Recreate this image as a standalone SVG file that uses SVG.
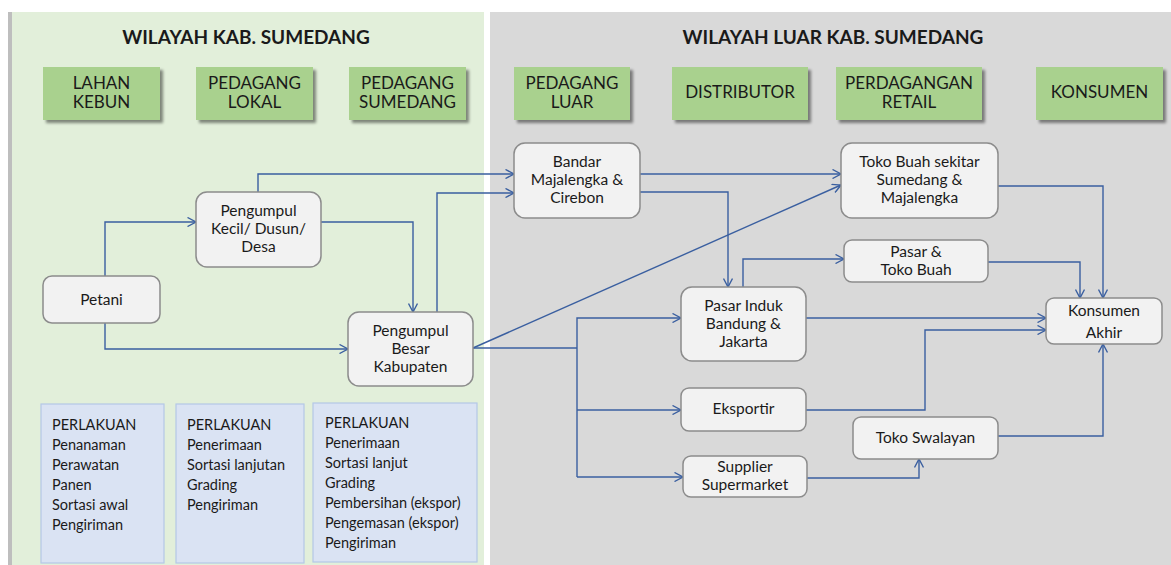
<svg xmlns="http://www.w3.org/2000/svg" width="1171" height="565" viewBox="0 0 1171 565">
  <defs>
    <filter id="shadow" x="-10%" y="-10%" width="130%" height="140%">
      <feGaussianBlur in="SourceAlpha" stdDeviation="1.5"/>
      <feOffset dx="3" dy="3" result="o"/>
      <feComponentTransfer><feFuncA type="linear" slope="0.45"/></feComponentTransfer>
      <feMerge><feMergeNode/><feMergeNode in="SourceGraphic"/></feMerge>
    </filter>
    <marker id="arrow" viewBox="0 0 10 10" refX="9.5" refY="5" markerWidth="10" markerHeight="10" markerUnits="userSpaceOnUse" orient="auto">
      <path d="M1,0.5 L9.5,5 L1,9.5" fill="none" stroke="#3A5FA0" stroke-width="1.4"/>
    </marker>
  </defs>
  <style>
    text { font-family: Lato, "Liberation Sans", sans-serif; fill: #1a1a1a; }
    .title { font-size: 19px; font-weight: bold; text-anchor: middle; }
    .head rect { fill: #A9D18E; filter: url(#shadow); }
    .head text { font-size: 17px; text-anchor: middle; }
    .node rect { fill: #F2F2F2; stroke: #8C8C8C; stroke-width: 1.5; }
    .node text { font-size: 15.5px; text-anchor: middle; }
    .info rect { fill: #DAE3F3; stroke: #B4C7E7; stroke-width: 1.2; }
    .info text { font-size: 14.5px; }
    .conn path { fill: none; stroke: #3A5FA0; stroke-width: 1.4; }
  </style>

  <rect width="1171" height="565" fill="#FFFFFF"/>
  <!-- regions -->
  <rect x="8" y="12" width="476" height="553" fill="#E2EFDA"/>
  <rect x="8" y="12" width="4" height="553" fill="#BEBEBE"/>
  <rect x="490" y="12" width="681" height="553" fill="#D9D9D9"/>
  <text class="title" x="246" y="44">WILAYAH KAB. SUMEDANG</text>
  <text class="title" x="833" y="44">WILAYAH LUAR KAB. SUMEDANG</text>

  <!-- stage headers -->
  <g id="h-lahan" class="head"><rect x="43" y="67" width="117" height="53"/><text x="101.5" y="89">LAHAN</text><text x="101.5" y="108">KEBUN</text></g>
  <g id="h-lokal" class="head"><rect x="196" y="67" width="117" height="53"/><text x="254.5" y="89">PEDAGANG</text><text x="254.5" y="108">LOKAL</text></g>
  <g id="h-sumedang" class="head"><rect x="349" y="67" width="117" height="53"/><text x="407.5" y="89">PEDAGANG</text><text x="407.5" y="108">SUMEDANG</text></g>
  <g id="h-luar" class="head"><rect x="514" y="67" width="116" height="53"/><text x="572" y="89">PEDAGANG</text><text x="572" y="108">LUAR</text></g>
  <g id="h-distributor" class="head"><rect x="672" y="67" width="136" height="53"/><text x="740" y="98">DISTRIBUTOR</text></g>
  <g id="h-retail" class="head"><rect x="836" y="67" width="146" height="53"/><text x="909" y="89">PERDAGANGAN</text><text x="909" y="108">RETAIL</text></g>
  <g id="h-konsumen" class="head"><rect x="1036" y="67" width="127" height="53"/><text x="1099.5" y="98">KONSUMEN</text></g>

  <!-- connectors -->
  <g id="connectors" class="conn">
    <path d="M105,276 V222 H196" marker-end="url(#arrow)"/>
    <path d="M105,323 V349 H348" marker-end="url(#arrow)"/>
    <path d="M321,222 H413 V312" marker-end="url(#arrow)"/>
    <path d="M258,192 V174 H514" marker-end="url(#arrow)"/>
    <path d="M437,312 V193 H514" marker-end="url(#arrow)"/>
    <path d="M473,348 L841,185" marker-end="url(#arrow)"/>
    <path d="M473,348 H577"/>
    <path d="M577,477 V318 H681" marker-end="url(#arrow)"/>
    <path d="M577,410 H681" marker-end="url(#arrow)"/>
    <path d="M577,477 H683" marker-end="url(#arrow)"/>
    <path d="M640,174 H841" marker-end="url(#arrow)"/>
    <path d="M640,192 H728 V287" marker-end="url(#arrow)"/>
    <path d="M743,287 V259 H844" marker-end="url(#arrow)"/>
    <path d="M988,262 H1080 V298" marker-end="url(#arrow)"/>
    <path d="M998,186 H1103 V298" marker-end="url(#arrow)"/>
    <path d="M806,318 H1046" marker-end="url(#arrow)"/>
    <path d="M806,410 H925 V330 H1046" marker-end="url(#arrow)"/>
    <path d="M807,478 H919 V459" marker-end="url(#arrow)"/>
    <path d="M998,436 H1103 V344" marker-end="url(#arrow)"/>
  </g>

  <!-- actors -->
  <g id="petani" class="node"><rect x="43" y="276" width="117" height="47" rx="9"/><text x="101.5" y="305">Petani</text></g>
  <g id="pengumpul-kecil" class="node"><rect x="196" y="192" width="125" height="75" rx="11"/><text x="258.5" y="216">Pengumpul</text><text x="258.5" y="234">Kecil/ Dusun/</text><text x="258.5" y="252">Desa</text></g>
  <g id="pengumpul-besar" class="node"><rect x="348" y="312" width="125" height="74" rx="11"/><text x="410.5" y="336">Pengumpul</text><text x="410.5" y="354">Besar</text><text x="410.5" y="372">Kabupaten</text></g>
  <g id="bandar" class="node"><rect x="514" y="143" width="126" height="75" rx="11"/><text x="577" y="167">Bandar</text><text x="577" y="185">Majalengka &amp;</text><text x="577" y="203">Cirebon</text></g>
  <g id="toko-buah-sekitar" class="node"><rect x="841" y="143" width="157" height="75" rx="11"/><text x="919.5" y="167">Toko Buah sekitar</text><text x="919.5" y="185">Sumedang &amp;</text><text x="919.5" y="203">Majalengka</text></g>
  <g id="pasar-toko-buah" class="node"><rect x="844" y="240" width="144" height="42" rx="8"/><text x="916" y="257">Pasar &amp;</text><text x="916" y="275">Toko Buah</text></g>
  <g id="pasar-induk" class="node"><rect x="681" y="287" width="125" height="74" rx="11"/><text x="743.5" y="311">Pasar Induk</text><text x="743.5" y="329">Bandung &amp;</text><text x="743.5" y="347">Jakarta</text></g>
  <g id="konsumen-akhir" class="node"><rect x="1046" y="298" width="116" height="46" rx="8"/><text x="1104" y="316">Konsumen</text><text x="1104" y="338">Akhir</text></g>
  <g id="eksportir" class="node"><rect x="681" y="388" width="125" height="43" rx="8"/><text x="743.5" y="414">Eksportir</text></g>
  <g id="toko-swalayan" class="node"><rect x="853" y="417" width="145" height="42" rx="8"/><text x="925.5" y="443">Toko Swalayan</text></g>
  <g id="supplier" class="node"><rect x="683" y="456" width="124" height="41" rx="8"/><text x="745" y="472">Supplier</text><text x="745" y="490">Supermarket</text></g>

  <!-- treatment notes -->
  <g id="perlakuan-1" class="info">
    <rect x="41" y="404" width="123" height="159"/>
    <text x="52" y="430">PERLAKUAN</text>
    <text x="52" y="450">Penanaman</text>
    <text x="52" y="470">Perawatan</text>
    <text x="52" y="490">Panen</text>
    <text x="52" y="510">Sortasi awal</text>
    <text x="52" y="530">Pengiriman</text>
  </g>
  <g id="perlakuan-2" class="info">
    <rect x="176" y="404" width="128" height="159"/>
    <text x="187" y="430">PERLAKUAN</text>
    <text x="187" y="450">Penerimaan</text>
    <text x="187" y="470">Sortasi lanjutan</text>
    <text x="187" y="490">Grading</text>
    <text x="187" y="510">Pengiriman</text>
  </g>
  <g id="perlakuan-3" class="info">
    <rect x="313" y="403" width="164" height="159"/>
    <text x="325" y="428">PERLAKUAN</text>
    <text x="325" y="448">Penerimaan</text>
    <text x="325" y="468">Sortasi lanjut</text>
    <text x="325" y="488">Grading</text>
    <text x="325" y="508">Pembersihan (ekspor)</text>
    <text x="325" y="528">Pengemasan (ekspor)</text>
    <text x="325" y="548">Pengiriman</text>
  </g>
</svg>
